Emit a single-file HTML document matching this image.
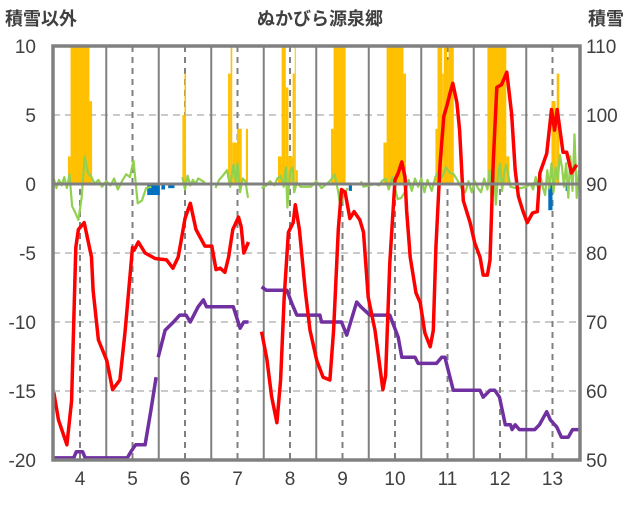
<!DOCTYPE html>
<html><head><meta charset="utf-8"><style>
body{margin:0;background:#fff;width:636px;height:501px;overflow:hidden}
svg text{font-family:"Liberation Sans","Noto Sans CJK JP",sans-serif;fill:#404040}
</style></head><body>
<svg id="c" width="636" height="501"></svg>
<script>
const xTicks=[4,5,6,7,8,9,10,11,12,13];
const leftTicks=[10,5,0,-5,-10,-15,-20];
const rightTicks=[110,100,90,80,70,60,50];
// temperature (left axis) [day, value]; null = gap
const redT=[3.50,3.59,3.75,3.84,3.92,3.97,4.08,4.22,4.25,4.35,4.51,4.62,4.76,4.86,5.00,5.03,5.11,5.24,5.43,5.65,5.77,5.87,5.94,6.00,6.10,6.21,6.28,6.38,6.51,6.59,6.67,6.76,6.83,6.91,7.02,7.07,7.12,7.21,null,7.46,7.56,7.65,7.75,7.82,7.89,7.97,8.06,8.10,8.18,8.29,8.38,8.51,8.63,8.76,8.83,8.92,8.98,9.05,9.14,9.22,9.33,9.40,9.49,9.62,9.77,9.82,9.90,10.00,10.06,10.13,10.19,10.22,10.29,10.40,10.48,10.57,10.67,10.73,10.78,10.86,10.93,10.99,11.05,11.10,11.18,11.23,11.30,11.43,11.52,11.62,11.68,11.76,11.81,11.87,11.94,12.03,12.13,12.22,12.29,12.35,12.44,12.52,12.62,12.71,12.76,12.89,12.98,13.04,13.09,13.20,13.27,13.36,13.46];
const redV=[-15.1,-17.1,-18.9,-15.7,-4.6,-3.3,-2.8,-5.3,-7.7,-11.3,-12.8,-14.9,-14.2,-10.6,-4.6,-4.8,-4.2,-5.0,-5.4,-5.5,-6.1,-5.3,-3.8,-2.5,-1.4,-3.3,-3.8,-4.5,-4.5,-6.2,-6.1,-6.4,-5.3,-3.3,-2.4,-3.1,-5.0,-4.2,null,-10.7,-12.7,-15.4,-17.3,-14.2,-8.2,-3.5,-2.8,-1.5,-3.3,-7.7,-10.6,-12.8,-14.0,-14.2,-10.6,-3.3,-0.4,-0.6,-2.5,-2.0,-2.6,-3.5,-8.2,-10.6,-14.9,-13.9,-5.7,0.3,0.8,1.6,0.5,-1.9,-5.3,-7.9,-8.6,-10.8,-11.8,-10.6,-4.6,1.5,4.9,5.7,6.6,7.3,5.9,3.9,-1.2,-2.8,-4.3,-5.3,-6.6,-6.6,-5.5,1.5,7.0,7.2,8.1,5.1,1.0,-0.9,-2.0,-2.8,-2.1,-2.0,0.8,2.2,5.4,3.9,5.4,2.3,2.3,0.8,1.4];
// snow depth (right axis)
const purT=[3.50,3.88,3.93,4.05,4.10,4.90,4.97,5.06,5.24,5.35,5.45,null,5.49,5.62,5.78,5.90,6.02,6.10,6.25,6.35,6.41,6.92,7.05,7.12,7.21,null,7.46,7.55,7.64,7.94,8.04,8.13,8.57,8.60,8.98,9.08,9.27,9.35,9.52,9.90,10.06,10.13,10.38,10.44,10.79,10.89,10.95,11.11,11.62,11.68,11.81,11.90,11.99,12.10,12.20,12.23,12.29,12.37,12.66,12.75,12.89,12.96,13.08,13.17,13.30,13.38,13.50];
const purV=[50.3,50.3,51.2,51.2,50.3,50.3,51.2,52.2,52.2,57.2,62.0,null,64.9,68.8,70.0,71.0,71.0,70.0,72.2,73.2,72.2,72.2,69.1,70.0,70.0,null,75.1,74.6,74.6,74.6,72.6,71.0,71.0,70.0,70.0,68.1,72.9,72.2,71.0,71.0,67.8,64.9,64.9,64.0,64.0,64.9,64.9,60.1,60.1,59.1,60.1,60.1,59.1,55.1,55.1,54.4,55.1,54.4,54.4,55.1,57.0,55.8,54.8,53.3,53.3,54.4,54.4];
const grnT=[3.50,3.55,3.60,3.65,3.70,3.75,3.80,3.85,3.90,3.97,4.03,4.09,4.15,4.22,4.28,4.35,4.42,4.50,4.58,4.65,4.72,4.80,4.88,4.95,5.02,5.10,5.18,5.26,5.36,null,5.95,6.00,6.05,6.10,6.15,6.20,6.25,6.30,6.38,null,6.58,6.65,6.72,6.80,6.86,6.92,6.97,7.00,7.05,7.10,7.15,7.20,null,7.46,7.55,7.62,7.70,7.76,7.82,7.88,7.92,7.95,8.00,8.05,8.08,8.13,8.20,8.30,8.40,8.50,8.60,8.70,8.78,8.85,8.92,8.96,9.02,9.10,null,9.35,9.40,9.50,9.62,9.70,9.75,9.82,9.88,9.95,10.05,10.12,10.20,10.26,10.32,10.38,10.44,10.50,10.56,10.62,10.70,10.77,10.83,10.90,10.97,11.05,11.12,11.20,11.28,11.34,11.40,11.46,11.52,11.58,11.64,11.70,11.76,11.80,11.84,11.88,11.92,11.96,12.00,12.04,12.08,12.12,12.20,12.30,12.40,12.50,12.58,12.63,12.68,12.73,12.78,12.82,12.86,12.90,12.94,12.98,13.02,13.06,13.10,13.14,13.18,13.22,13.26,13.30,13.34,13.38,13.42,13.46,13.50];
const grnV=[0.4,-0.3,0.3,-0.1,0.5,-0.3,0.7,-1.6,-2.0,-2.6,-1.0,2.0,0.8,0.5,0.0,0.3,-0.2,0.2,-0.1,0.4,-0.4,0.2,0.7,0.5,1.7,-1.4,-1.2,-0.3,-0.2,null,0.5,-0.4,0.6,-0.1,0.3,0.0,0.4,0.3,0.1,null,-0.3,0.3,0.6,1.0,-0.2,1.4,0.2,1.5,-0.6,0.4,0.2,-1.0,null,-0.3,-0.1,0.2,-0.1,0.4,0.6,-0.2,1.2,-1.7,0.9,1.2,-0.6,0.1,-0.2,-0.2,-0.2,0.2,-0.3,0.0,0.3,0.7,-0.6,-1.7,-0.8,-0.3,null,0.2,-0.2,-0.1,0.0,-0.1,0.2,0.4,-0.4,0.5,-1.1,-1.0,-0.5,0.3,-0.5,0.4,-0.2,0.4,-0.6,0.3,-0.5,0.5,1.0,0.5,1.2,0.8,0.7,0.2,-0.4,-0.6,0.2,-0.6,0.2,-0.3,-0.6,0.4,-0.4,1.0,-1.2,1.4,-1.5,0.5,1.5,-0.5,0.8,1.4,-0.2,-0.3,-0.3,-0.2,0.0,-0.4,0.5,-0.4,0.4,-0.3,-0.8,1.0,-0.3,1.5,-0.6,1.2,0.3,2.1,1.2,-0.2,1.5,-1.0,2.0,-0.5,3.6,-1.0,1.0,-3.3,-2.3];
// snowfall (yellow, left axis) runs: start, end, value
const snowS=[3.77,3.82,4.18,5.95,5.99,6.82,6.87,6.90,6.99,7.16,7.77,7.84,7.92,7.97,8.05,8.09,8.11,8.78,8.83,9.78,9.84,10.16,10.77,10.81,10.90,10.93,10.99,11.02,11.76,12.12,12.98,13.06,13.08];
const snowE=[3.82,4.18,4.23,5.99,6.02,6.87,6.90,6.99,7.08,7.20,7.84,7.92,7.97,8.05,8.09,8.11,8.15,8.83,9.06,9.84,10.16,10.21,10.81,10.90,10.93,10.99,11.02,11.12,12.12,12.18,13.06,13.08,13.13];
const snowV=[2,12,6,5,8,8,12,3,4,4,2,12,7,2,8,12,1,4,12,3,12,8,4,12,8,12,9,12,12,2,6,4,8];
const blueS=[5.28,5.55,5.68,9.12,12.92,13.25];
const blueE=[5.52,5.62,5.80,9.18,13.00,13.29];
const blueV=[-0.8,-0.4,-0.3,-0.5,-1.9,-0.5];

const NS='http://www.w3.org/2000/svg',svg=document.getElementById('c');
const L=53,R=580,T=46,B=460;
const xs=d=>80+(d-4)*52.5;
const yl=v=>T+(10-v)*(B-T)/30;
const yr=v=>B-(v-50)*(B-T)/60;
function mk(tag,at,parent){const e=document.createElementNS(NS,tag);for(const k in at)e.setAttribute(k,at[k]);(parent||svg).appendChild(e);return e;}
const plot=mk('g',{});


mk('rect',{x:L,y:T,width:R-L,height:B-T,fill:'#fff'},plot);
// clip
const cp=mk('clipPath',{id:'cl'});mk('rect',{x:L,y:T,width:R-L,height:B-T},cp);
// grid horizontal
leftTicks.forEach(v=>{if(v===10||v===-20||v===0)return;const g=mk('line',{x1:L,x2:R,y1:yl(v),y2:yl(v),stroke:'#b8b8b8','stroke-width':1.5,'stroke-dasharray':'7,5'},plot);

});
// vertical
for(let d=4.5;d<13.5;d+=1){const g=mk('line',{x1:xs(d),x2:xs(d),y1:T,y2:B,stroke:'#808080','stroke-width':2},plot);

}
xTicks.forEach(d=>{const g=mk('line',{x1:xs(d),x2:xs(d),y1:T,y2:B,stroke:'#808080','stroke-width':2,'stroke-dasharray':'6,5'},plot);

});
const cg=mk('g',{'clip-path':'url(#cl)'},plot);
function bars(S,E,V,col,name){S.forEach((s,i)=>{const v=Math.min(V[i],10.5);const y0=yl(0),y1=yl(v);const r=mk('rect',{x:xs(s),y:Math.min(y0,y1),width:xs(E[i])-xs(s),height:Math.abs(y1-y0),fill:col},cg);

});}
bars(snowS,snowE,snowV,'#FFC000','snowfall-bar');
bars(blueS,blueE,blueV,'#0070C0','negative-bar');
// zero line
const z=mk('line',{x1:L,x2:R,y1:yl(0),y2:yl(0),stroke:'#808080','stroke-width':3},plot);


function line(T_,V,fy,col,w,name){let d='',pen=false;T_.forEach((t,i)=>{if(t===null||V[i]===null){pen=false;return;}d+=(pen?'L':'M')+xs(t).toFixed(1)+','+fy(V[i]).toFixed(1);pen=true;});const p=mk('path',{d:d,fill:'none',stroke:col,'stroke-width':w,'stroke-linejoin':'round'},cg);

}
line(grnT,grnV,yl,'#92D050',2.2,'green-series');
line(purT,purV,yr,'#7030A0',3.5,'snow-depth-line');
line(redT,redV,yl,'#FF0000',3.5,'temperature-line');
const bd=mk('rect',{x:L,y:T,width:R-L,height:B-T,fill:'none',stroke:'#808080','stroke-width':3.5});


leftTicks.forEach(v=>{const t=mk('text',{x:36,y:yl(v)+7,'text-anchor':'end','font-size':19});t.textContent=v;

});
rightTicks.forEach(v=>{const t=mk('text',{x:586,y:yr(v)+7,'font-size':19});t.textContent=v;

});
xTicks.forEach(v=>{const t=mk('text',{x:xs(v),y:485,'text-anchor':'middle','font-size':19});t.textContent=v;

});
const tl=mk('text',{x:5,y:25,'font-size':18,'font-weight':'bold'});tl.textContent='積雪以外';


const tc=mk('text',{x:320,y:25,'text-anchor':'middle','font-size':18,'font-weight':'bold'});tc.textContent='ぬかびら源泉郷';


const tr=mk('text',{x:588,y:25,'font-size':18,'font-weight':'bold'});tr.textContent='積雪';


</script>
</body></html>
